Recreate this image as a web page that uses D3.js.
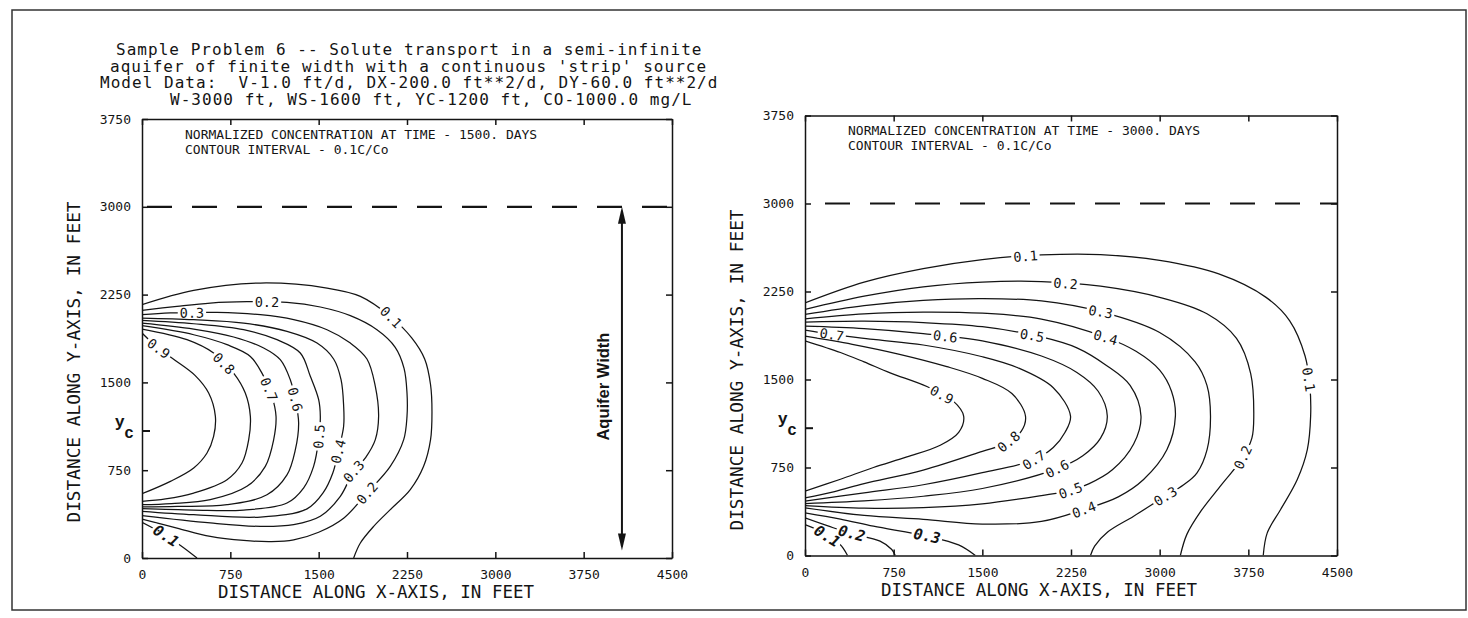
<!DOCTYPE html>
<html><head><meta charset="utf-8">
<script src="https://cdn.jsdelivr.net/npm/d3@7"></script>
<style>body{margin:0;background:#fff}svg{display:block}</style>
</head><body>
<svg id="chart"></svg>
<script>
// ---------------- DATA ----------------
const titleLines = [
  "Sample Problem 6 -- Solute transport in a semi-infinite",
  "aquifer of finite width with a continuous 'strip' source",
  "Model Data:  V-1.0 ft/d, DX-200.0 ft**2/d, DY-60.0 ft**2/d",
  "W-3000 ft, WS-1600 ft, YC-1200 ft, CO-1000.0 mg/L"
];
const xTicks = [0, 750, 1500, 2250, 3000, 3750, 4500];
const yTicks = [0, 750, 1500, 2250, 3000, 3750];
const ycTick = 1085;          // position of the y_c mark as drawn
const boundaryY = 3000;       // aquifer boundary (dashed)
const aquiferArrowX = 4075;
const aquiferArrowY = [65, 3000];
const times = [1500, 3000];

// contour lines, time = 1500 days  [x ft, y ft]
const c1500_01a = [[0,2164],[439,2286],[1005,2349],[1571,2306],[1854,2235],[2108,2064],[2290,1880],[2400,1700],[2450,1480],[2462,1250],[2450,1011],[2391,783],[2278,584],[2108,413],[1967,270],[1854,128],[1797,0]];
const c1500_01b = [[0,305],[80,262],[200,190],[330,105],[467,0]];
const c1500_02 = [[0,2115],[297,2150],[580,2178],[891,2189],[1231,2184],[1514,2144],[1769,2070],[1995,1950],[2150,1800],[2225,1620],[2250,1409],[2250,1210],[2222,1011],[2108,783],[1910,555],[1712,340],[1500,220],[1288,155],[1100,140],[863,150],[580,185],[297,256],[0,333]];
const c1500_03 = [[0,2078],[241,2093],[637,2098],[1005,2078],[1288,2036],[1571,1950],[1769,1836],[1910,1700],[1981,1466],[2009,1210],[1981,1011],[1900,860],[1797,740],[1684,527],[1514,356],[1288,285],[1005,270],[580,299],[0,362]];
const c1500_04 = [[0,2050],[439,2036],[863,2007],[1231,1936],[1486,1836],[1627,1700],[1690,1523],[1712,1300],[1712,1125],[1670,925],[1620,726],[1540,560],[1401,420],[1005,350],[439,370],[0,399]];
const c1500_05 = [[0,2030],[439,2001],[863,1950],[1146,1865],[1344,1751],[1429,1552],[1500,1352],[1514,1210],[1500,1011],[1457,783],[1373,600],[1231,470],[863,410],[439,410],[0,421]];
const c1500_06 = [[0,2007],[439,1956],[778,1888],[1033,1794],[1174,1694],[1259,1523],[1302,1352],[1330,1153],[1302,925],[1231,710],[1061,540],[722,455],[300,440],[0,436]];
const c1500_07 = [[0,1984],[439,1907],[722,1822],[920,1722],[1033,1552],[1104,1381],[1138,1210],[1118,1011],[1047,783],[891,612],[580,498],[250,465],[0,455]];
const c1500_08 = [[0,1956],[382,1865],[608,1751],[778,1580],[877,1409],[920,1210],[906,1011],[849,811],[722,669],[439,555],[200,505],[0,484]];
const c1500_09 = [[0,1922],[130,1800],[280,1690],[450,1560],[566,1409],[623,1210],[608,1039],[552,897],[439,769],[241,655],[0,549]];

// contour lines, time = 3000 days
const c3000_01a = [[0,2153],[500,2330],[1000,2445],[1500,2522],[2000,2562],[2500,2565],[3000,2515],[3500,2400],[3900,2200],[4100,2000],[4230,1700],[4270,1450],[4277,1188],[4249,903],[4164,648],[4023,392],[3910,193],[3876,0]];
const c3000_01b = [[0,264],[99,222],[184,165],[297,94],[360,0]];
const c3000_02a = [[0,2097],[500,2210],[1000,2290],[1500,2330],[2000,2335],[2500,2295],[3000,2200],[3400,2060],[3650,1850],[3770,1550],[3796,1188],[3780,1000],[3700,830],[3520,600],[3350,380],[3230,180],[3175,0]];
const c3000_02b = [[0,321],[200,250],[381,190],[635,122],[734,51],[763,0]];
const c3000_03a = [[0,2054],[500,2130],[1000,2175],[1500,2190],[2000,2170],[2500,2078],[3000,1900],[3300,1650],[3400,1450],[3430,1188],[3401,903],[3316,705],[3200,600],[3048,506],[2780,335],[2560,200],[2450,80],[2415,0]];
const c3000_03b = [[0,364],[300,310],[579,250],[1031,165],[1299,90],[1441,0]];
const c3000_04 = [[0,2017],[500,2060],[1000,2075],[1500,2065],[2000,2015],[2543,1860],[2800,1740],[3000,1580],[3100,1400],[3133,1188],[3062,903],[2864,648],[2650,500],[2359,392],[2000,290],[1500,268],[1000,308],[500,341],[0,406]];
const c3000_05 = [[0,1989],[500,1997],[1000,1985],[1500,1950],[2000,1863],[2300,1770],[2550,1620],[2750,1450],[2842,1188],[2780,950],[2600,730],[2400,610],[2246,555],[2000,511],[1500,440],[1000,408],[500,404],[0,426]];
const c3000_06 = [[0,1955],[500,1934],[1000,1892],[1500,1829],[2000,1700],[2300,1560],[2480,1400],[2557,1188],[2500,1000],[2350,850],[2133,740],[1500,571],[1000,505],[500,466],[0,443]];
const c3000_07 = [[0,1920],[226,1884],[600,1840],[1000,1794],[1500,1694],[1800,1600],[2100,1430],[2246,1188],[2200,1050],[2100,920],[1935,815],[1500,706],[1000,603],[500,534],[0,463]];
const c3000_08 = [[0,1869],[400,1800],[800,1715],[1200,1610],[1500,1510],[1750,1380],[1865,1188],[1830,1060],[1709,960],[1500,888],[1000,728],[500,613],[250,545],[0,491]];
const c3000_09 = [[0,1830],[300,1730],[500,1650],[720,1557],[1031,1440],[1250,1320],[1342,1188],[1300,1050],[1144,940],[862,840],[579,750],[300,650],[0,548]];

// contour labels [level, x, y]
const labels1500 = [[0.1,2108,2050],[0.2,1061,2184],[0.3,424,2093],[0.9,127,1770],[0.8,693,1660],[0.7,1075,1438],[0.6,1288,1352],[0.5,1500,1039],[0.4,1660,911],[0.3,1797,740],[0.2,1910,555]];
const boldLabels1500 = [[0.1,198,180]];
const labels3000 = [[0.1,1865,2545],[0.2,2204,2318],[0.3,2500,2078],[0.4,2543,1860],[0.5,1921,1878],[0.6,1187,1868],[0.7,226,1884],[0.9,1158,1370],[0.8,1723,970],[0.7,1935,815],[0.6,2133,740],[0.5,2246,555],[0.4,2359,392],[0.3,3048,506],[0.2,3705,835],[0.1,4262,1500]];
const boldLabels3000 = [[0.3,1031,165],[0.2,395,190],[0.1,190,170]];

// ---------------- DRAWING ----------------
const W = 1468, H = 618;
const MONO = "'DejaVu Sans Mono', monospace";
const INK = "#141414";
const svg = d3.select('#chart').attr('width', W).attr('height', H);
svg.append('rect').attr('width', W).attr('height', H).attr('fill', '#fff');
svg.append('rect').attr('x', 12).attr('y', 10).attr('width', 1454).attr('height', 600)
  .attr('fill', 'none').attr('stroke', '#333').attr('stroke-width', 1.5);

const titleX = [116, 110, 100, 170], titleY = [55, 71.5, 88, 105];
titleLines.forEach((t, i) => {
  svg.append('text').attr('x', titleX[i]).attr('y', titleY[i])
    .attr('font-family', MONO).attr('font-size', 16).attr('letter-spacing', 1.03).attr('fill', INK)
    .style('white-space', 'pre').text(t);
});

const panels = [
  { L: 142, R: 672, T: 119, B: 558, time: times[0], dashOffset: 40, yTitleY: 362,
    contours: [[0.1,c1500_01a],[0.1,c1500_01b],[0.2,c1500_02],[0.3,c1500_03],[0.4,c1500_04],[0.5,c1500_05],[0.6,c1500_06],[0.7,c1500_07],[0.8,c1500_08],[0.9,c1500_09]],
    labels: labels1500, bold: boldLabels1500, arrow: true },
  { L: 805, R: 1337, T: 115.5, B: 555.5, time: times[1], dashOffset: 25, yTitleY: 370,
    contours: [[0.1,c3000_01a],[0.1,c3000_01b],[0.2,c3000_02a],[0.2,c3000_02b],[0.3,c3000_03a],[0.3,c3000_03b],[0.4,c3000_04],[0.5,c3000_05],[0.6,c3000_06],[0.7,c3000_07],[0.8,c3000_08],[0.9,c3000_09]],
    labels: labels3000, bold: boldLabels3000, arrow: false }
];

function snap(px, py, polys) {
  let best = null;
  polys.forEach(poly => {
    for (let i = 0; i < poly.length - 1; i++) {
      const [ax, ay] = poly[i], [bx, by] = poly[i + 1];
      const dx = bx - ax, dy = by - ay, len2 = dx * dx + dy * dy || 1;
      let t = ((px - ax) * dx + (py - ay) * dy) / len2;
      t = Math.max(0, Math.min(1, t));
      const qx = ax + t * dx, qy = ay + t * dy;
      const d = (qx - px) ** 2 + (qy - py) ** 2;
      if (!best || d < best.d) best = { d, x: qx, y: qy, a: Math.atan2(dy, dx) * 180 / Math.PI };
    }
  });
  let a = best.a;
  while (a > 90) a -= 180;
  while (a <= -90) a += 180;
  return { x: best.x, y: best.y, a };
}

panels.forEach((p, pi) => {
  const x = d3.scaleLinear().domain([0, 4500]).range([p.L, p.R]);
  const y = d3.scaleLinear().domain([0, 3750]).range([p.B, p.T]);
  const g = svg.append('g');
  const clipId = 'clip' + pi;
  svg.append('clipPath').attr('id', clipId).append('rect')
    .attr('x', p.L).attr('y', p.T).attr('width', p.R - p.L).attr('height', p.B - p.T);
  const cg = g.append('g').attr('clip-path', `url(#${clipId})`);
  const line = d3.line().x(d => x(d[0])).y(d => y(d[1])).curve(d3.curveCatmullRom.alpha(0.5));

  p.contours.forEach(([lev, pts]) => {
    cg.append('path').attr('d', line(pts)).attr('fill', 'none')
      .attr('stroke', INK).attr('stroke-width', 1.25);
  });

  // aquifer boundary
  cg.append('line').attr('x1', x(0)).attr('x2', x(4500))
    .attr('y1', y(boundaryY)).attr('y2', y(boundaryY))
    .attr('stroke', INK).attr('stroke-width', 2.2)
    .attr('stroke-dasharray', '25,20').attr('stroke-dashoffset', p.dashOffset);

  // contour labels (white box behind so the line is broken)
  const addLabels = (arr, bold) => arr.forEach(([lev, lx, ly]) => {
    const polys = p.contours.filter(c => c[0] === lev).map(c => c[1].map(d => [x(d[0]), y(d[1])]));
    const s = snap(x(lx), y(ly), polys);
    const lg = g.append('g').attr('transform', `translate(${s.x},${s.y}) rotate(${s.a})`);
    const t = lg.append('text')
      .attr('text-anchor', 'middle').attr('dominant-baseline', 'central')
      .attr('font-family', MONO).attr('font-size', bold ? 15 : 13.5)
      .attr('font-weight', bold ? 'bold' : 'normal')
      .attr('font-style', bold ? 'italic' : 'normal')
      .attr('fill', INK).text(lev.toFixed(1));
    const w = t.node().getComputedTextLength();
    lg.insert('rect', 'text').attr('x', -w / 2 - 2).attr('y', -5).attr('width', w + 4).attr('height', 10)
      .attr('fill', '#fff');
  });
  addLabels(p.labels, false);
  addLabels(p.bold, true);

  // axes (ticks inward on all sides)
  const styleAxis = sel => {
    sel.attr('font-family', MONO).attr('font-size', 13);
    sel.selectAll('path,line').attr('stroke', INK).attr('stroke-width', 1.5);
    sel.selectAll('text').attr('fill', INK);
  };
  g.append('g').attr('transform', `translate(0,${p.B})`)
    .call(d3.axisBottom(x).tickValues(xTicks).tickSizeInner(-6).tickSizeOuter(0).tickPadding(12).tickFormat(d3.format('d')))
    .call(styleAxis);
  g.append('g').attr('transform', `translate(0,${p.T})`)
    .call(d3.axisTop(x).tickValues(xTicks).tickSizeInner(-6).tickSizeOuter(0).tickFormat(''))
    .call(styleAxis);
  g.append('g').attr('transform', `translate(${p.L},0)`)
    .call(d3.axisLeft(y).tickValues(yTicks).tickSizeInner(-6).tickSizeOuter(0).tickPadding(11).tickFormat(d3.format('d')))
    .call(styleAxis);
  g.append('g').attr('transform', `translate(${p.R},0)`)
    .call(d3.axisRight(y).tickValues(yTicks).tickSizeInner(-6).tickSizeOuter(0).tickFormat(''))
    .call(styleAxis);

  // y_c mark
  g.append('line').attr('x1', p.L).attr('x2', p.L + 8).attr('y1', y(ycTick)).attr('y2', y(ycTick))
    .attr('stroke', INK).attr('stroke-width', 2);
  g.append('text').attr('x', p.L - 27).attr('y', y(ycTick) - 4)
    .attr('font-family', "'Liberation Sans', Arial, sans-serif").attr('font-weight', 'bold')
    .attr('font-size', 17).attr('fill', INK).text('y');
  g.append('text').attr('x', p.L - 17.5).attr('y', y(ycTick) + 7)
    .attr('font-family', "'Liberation Sans', Arial, sans-serif").attr('font-weight', 'bold')
    .attr('font-size', 16).attr('fill', INK).text('c');

  // headers
  g.append('text').attr('x', p.L + 43).attr('y', p.T + 19.7)
    .attr('font-family', MONO).attr('font-size', 13).attr('fill', INK)
    .text(`NORMALIZED CONCENTRATION AT TIME - ${p.time}. DAYS`);
  g.append('text').attr('x', p.L + 43).attr('y', p.T + 34.5)
    .attr('font-family', MONO).attr('font-size', 13).attr('fill', INK)
    .text('CONTOUR INTERVAL - 0.1C/Co');

  // axis titles
  g.append('text').attr('x', p.L + 234).attr('y', p.B + 34).attr('text-anchor', 'middle')
    .attr('dominant-baseline', 'central').attr('font-family', MONO).attr('font-size', 17.5)
    .attr('fill', INK).text('DISTANCE ALONG X-AXIS, IN FEET');
  g.append('text').attr('transform', `translate(${p.L - 69},${p.yTitleY}) rotate(-90)`)
    .attr('text-anchor', 'middle').attr('dominant-baseline', 'central')
    .attr('font-family', MONO).attr('font-size', 17.8).attr('fill', INK)
    .text('DISTANCE ALONG Y-AXIS, IN FEET');

  // aquifer width arrow
  if (p.arrow) {
    const ax = x(aquiferArrowX), yTop = y(aquiferArrowY[1]), yBot = y(aquiferArrowY[0]);
    g.append('line').attr('x1', ax).attr('x2', ax).attr('y1', yTop + 4).attr('y2', yBot - 4)
      .attr('stroke', INK).attr('stroke-width', 2);
    g.append('path').attr('d', `M${ax},${yTop}L${ax - 4},${yTop + 17}L${ax + 4},${yTop + 17}Z`).attr('fill', INK);
    g.append('path').attr('d', `M${ax},${yBot}L${ax - 4},${yBot - 17}L${ax + 4},${yBot - 17}Z`).attr('fill', INK);
    g.append('text').attr('transform', `translate(${ax - 19},${(yTop + yBot) / 2 + 8}) rotate(-90)`)
      .attr('text-anchor', 'middle').attr('dominant-baseline', 'central')
      .attr('font-family', "'Liberation Sans', Arial, sans-serif").attr('font-weight', 'bold')
      .attr('font-size', 16.5).attr('fill', INK).text('Aquifer Width');
  }
});
</script>
</body></html>
